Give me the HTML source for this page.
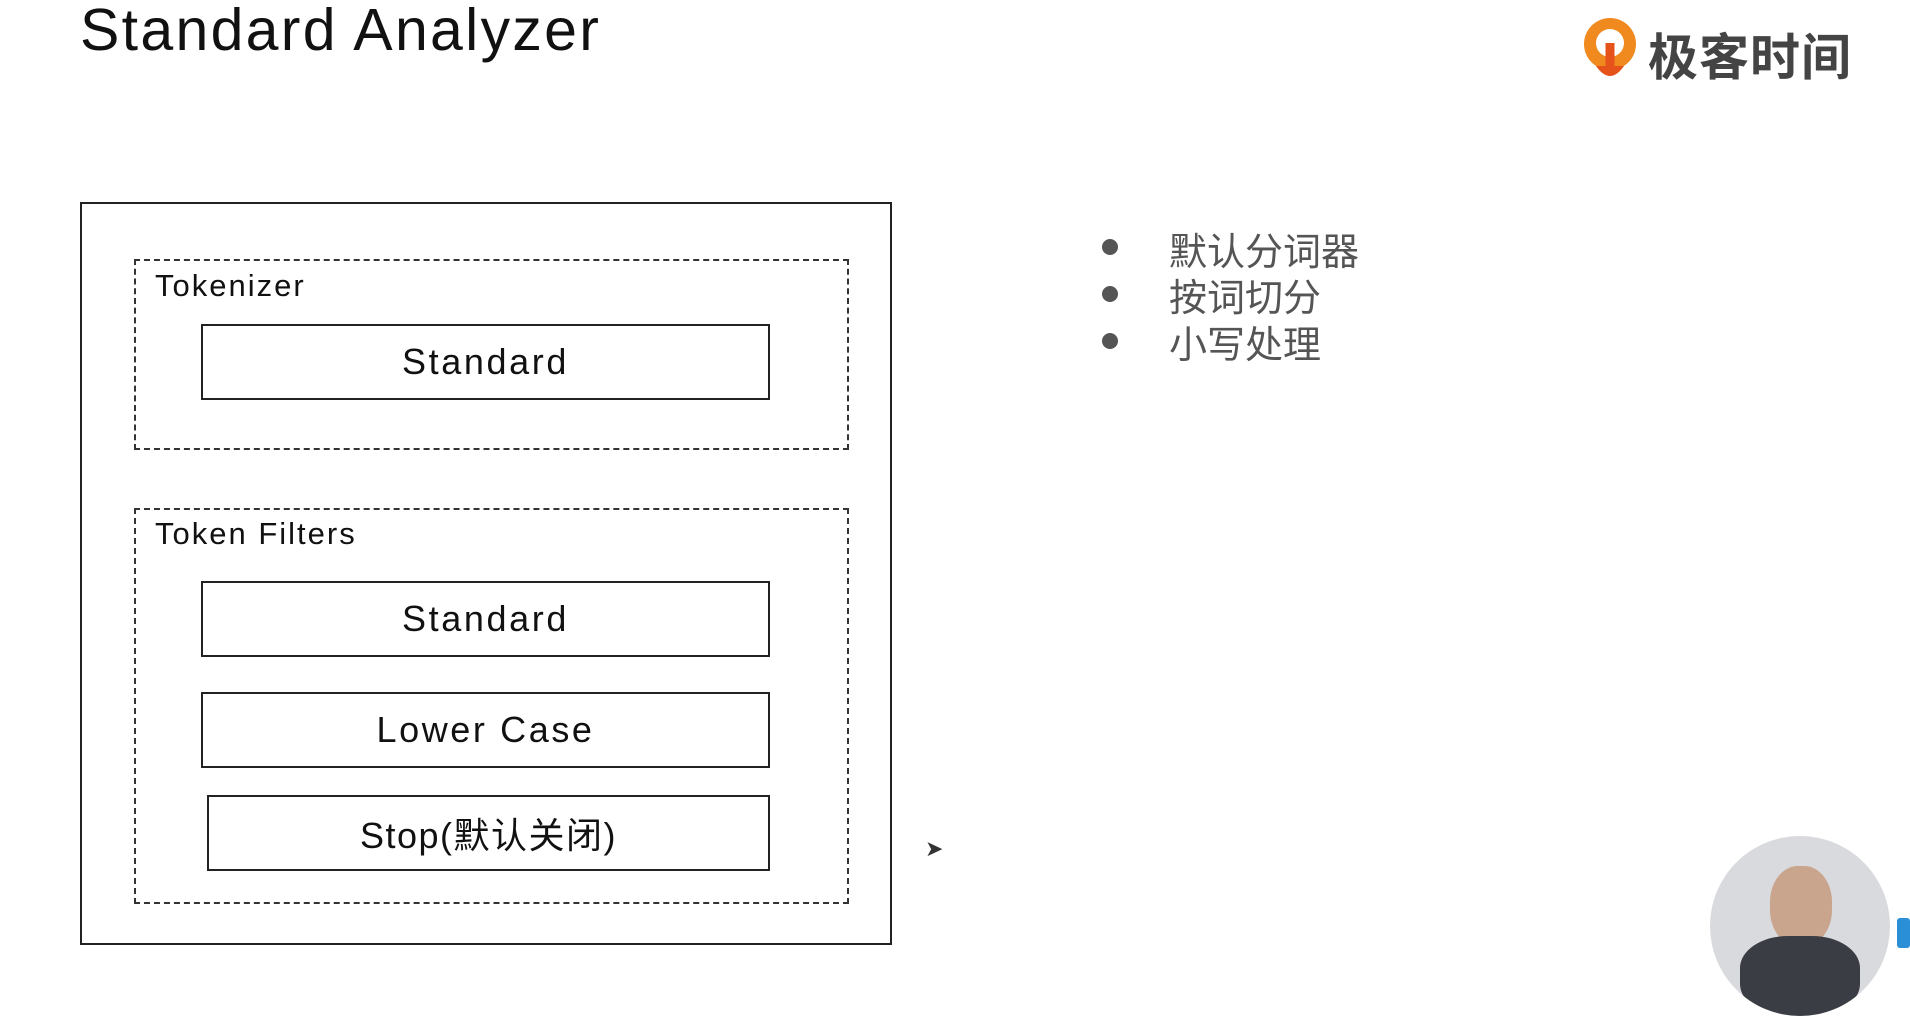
<!DOCTYPE html>
<html><head><meta charset="utf-8"><style>
html,body{margin:0;padding:0;width:1910px;height:960px;overflow:hidden;background:#fff;font-family:"Liberation Sans","Noto Sans CJK SC",sans-serif;color:#111}
.a{position:absolute;box-sizing:border-box}
.box{border:2px solid #222;display:flex;align-items:center;justify-content:center;font-size:36px;color:#111;letter-spacing:2.6px}
.dash{border:2px dashed #333}
.lbl{font-size:31px;color:#111;letter-spacing:2px}
.b{font-size:38px;color:#555}
.dot{width:16px;height:16px;border-radius:50%;background:#555}
</style></head><body>
<div class="a" style="left:80px;top:-4px;font-size:59px;font-weight:300;color:#111;letter-spacing:2.3px">Standard Analyzer</div>

<div class="a" style="left:1582px;top:16px;width:56px;height:66px">
<svg width="56" height="66" viewBox="0 0 56 66"><circle cx="28" cy="28" r="26" fill="#f08a1f"/><circle cx="28" cy="27" r="14" fill="#fff"/><path d="M28 27 L28 58" stroke="#e5531a" stroke-width="9"/><path d="M14 50 Q28 70 42 50" fill="#e5531a"/></svg></div>
<div class="a" style="left:1648px;top:18px;font-size:50px;color:#444;font-weight:bold;letter-spacing:1px">极客时间</div>

<div class="a" style="left:80px;top:202px;width:812px;height:743px;border:2px solid #222"></div>
<div class="a dash" style="left:134px;top:259px;width:715px;height:191px"></div>
<div class="a lbl" style="left:155px;top:268px">Tokenizer</div>
<div class="a box" style="left:201px;top:324px;width:569px;height:76px">Standard</div>

<div class="a dash" style="left:134px;top:508px;width:715px;height:396px"></div>
<div class="a lbl" style="left:155px;top:516px">Token Filters</div>
<div class="a box" style="left:201px;top:581px;width:569px;height:76px">Standard</div>
<div class="a box" style="left:201px;top:692px;width:569px;height:76px">Lower Case</div>
<div class="a box" style="left:207px;top:795px;width:563px;height:76px;letter-spacing:1.5px">Stop(默认关闭)</div>

<div class="a dot" style="left:1102px;top:239px"></div>
<div class="a b" style="left:1169px;top:221px">默认分词器</div>
<div class="a dot" style="left:1102px;top:286px"></div>
<div class="a b" style="left:1169px;top:267px">按词切分</div>
<div class="a dot" style="left:1102px;top:333px"></div>
<div class="a b" style="left:1169px;top:314px">小写处理</div>

<div class="a" style="left:925px;top:836px;font-size:22px;color:#333">➤</div>

<div class="a" style="left:1710px;top:836px;width:180px;height:180px;border-radius:50%;background:#d9dadd;overflow:hidden">
<div class="a" style="left:60px;top:30px;width:62px;height:80px;border-radius:45%;background:#c9a58e"></div>
<div class="a" style="left:30px;top:100px;width:120px;height:80px;border-radius:40%;background:#3a3d44"></div>
</div>
<div class="a" style="left:1897px;top:918px;width:13px;height:30px;background:#2a8fd6;border-radius:3px"></div>
</body></html>
